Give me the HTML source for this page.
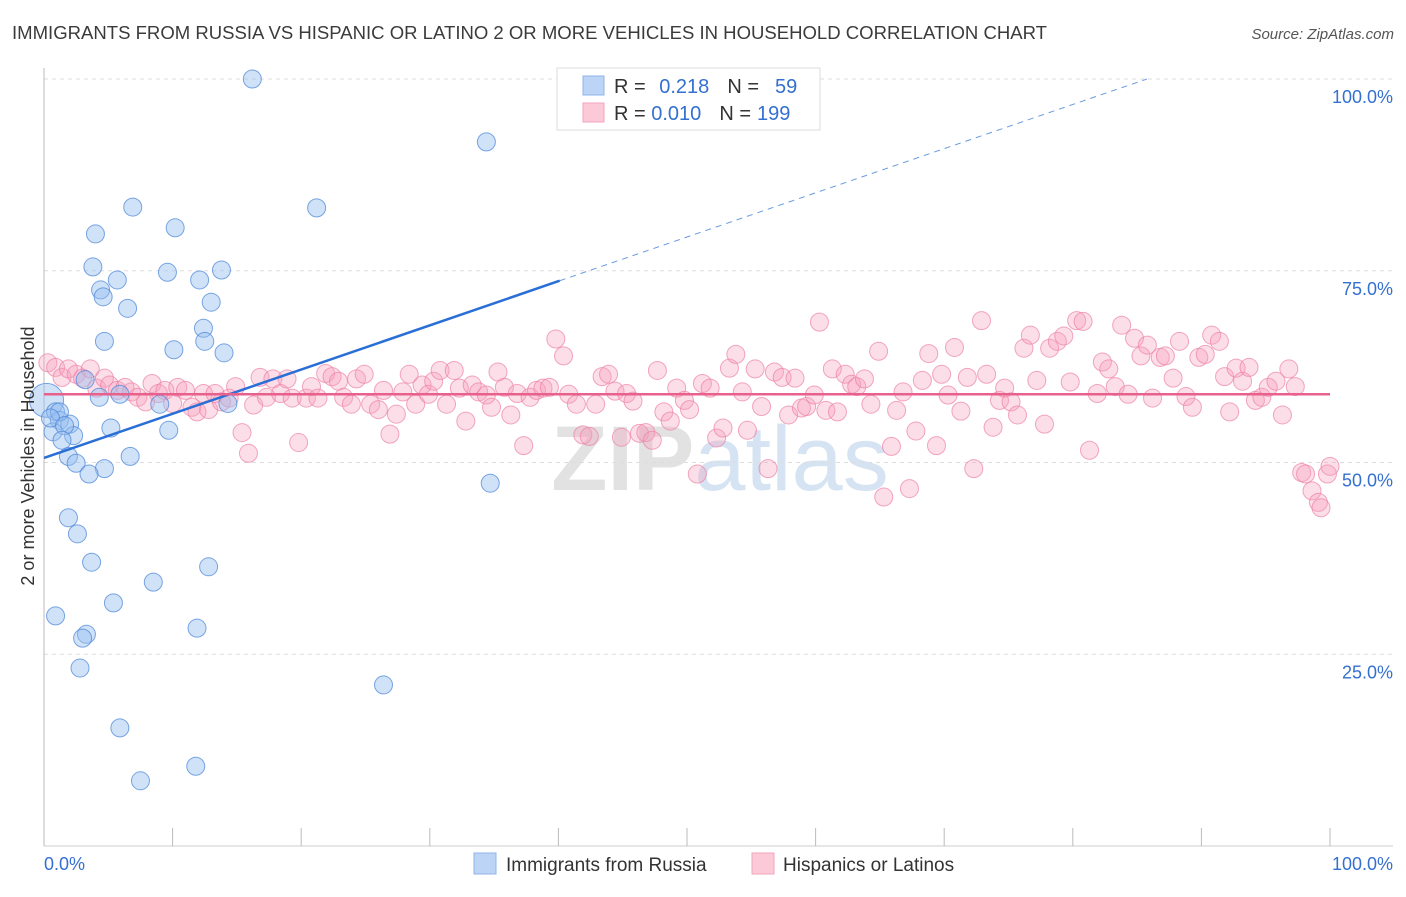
<!DOCTYPE html>
<html><head><meta charset="utf-8"><style>
body{margin:0;background:#fff;font-family:"Liberation Sans",sans-serif;}
svg text{font-family:"Liberation Sans",sans-serif;}
</style></head><body>
<svg id="chart" width="1406" height="892" xmlns="http://www.w3.org/2000/svg">
<text x="12" y="39" font-size="18" fill="#3b3b3b" textLength="1035" lengthAdjust="spacingAndGlyphs">IMMIGRANTS FROM RUSSIA VS HISPANIC OR LATINO 2 OR MORE VEHICLES IN HOUSEHOLD CORRELATION CHART</text>
<text x="1394" y="39" font-size="15" fill="#555" text-anchor="end" font-style="italic">Source: ZipAtlas.com</text>
<text x="720" y="490" font-size="92" text-anchor="middle" fill="#e2e2e2" font-weight="bold" font-family="Liberation Serif">ZIP<tspan fill="#d5e3f2" font-family="Liberation Sans" font-weight="normal">atlas</tspan></text>
<g id="grid"></g>
<g id="axes"></g>
<g id="pink"></g>
<g id="blue"></g>
<g id="trend"></g>
<text transform="translate(34,456) rotate(-90)" font-size="18" fill="#333" text-anchor="middle">2 or more Vehicles in Household</text>
<g>
<rect x="557" y="68" width="263" height="62" fill="#fff" stroke="#ddd"/>
<rect x="583" y="76" width="21" height="19" fill="#bcd4f5" stroke="#8fb3e8"/>
<rect x="583" y="103" width="21" height="19" fill="#fbc9d8" stroke="#f3a5bd"/>
<text x="614" y="93" font-size="20" fill="#333">R = <tspan fill="#3470d0" dx="8">0.218</tspan><tspan fill="#333" dx="18">N =</tspan><tspan fill="#3470d0" dx="16">59</tspan></text>
<text x="614" y="120" font-size="20" fill="#333">R = <tspan fill="#3470d0">0.010</tspan><tspan fill="#333" dx="18">N =</tspan><tspan fill="#3470d0" dx="6">199</tspan></text>
</g>
<g>
<rect x="474" y="853" width="22" height="21" fill="#bcd4f5" stroke="#8fb3e8"/>
<text x="506" y="871" font-size="19" fill="#333">Immigrants from Russia</text>
<rect x="752" y="853" width="22" height="21" fill="#fbc9d8" stroke="#f3a5bd"/>
<text x="783" y="871" font-size="19" fill="#333">Hispanics or Latinos</text>
</g>
</svg>
<script>
const yTicks=[100,75,50,25];
const yTickLabels=["100.0%","75.0%","50.0%","25.0%"];
const xEndLabels=["0.0%","100.0%"];
const blueX=[16.2,34.4,6.9,21.2,4.0,10.2,3.8,9.6,5.7,12.1,13.8,4.4,4.6,13.0,6.5,12.4,4.7,12.5,10.1,14.0,3.2,4.3,5.9,9.0,14.3,0.2,0.9,1.2,2.0,0.7,2.3,5.2,9.7,1.9,6.7,2.5,4.7,3.5,34.7,1.9,2.6,3.7,12.8,8.5,5.4,0.9,3.3,3.0,11.9,2.8,26.4,5.9,7.5,11.8,1.2,0.5,1.6,1.4];
const blueY=[100.0,91.8,83.3,83.2,79.8,80.6,75.5,74.8,73.8,73.8,75.1,72.5,71.6,70.9,70.1,67.5,65.8,65.8,64.7,64.3,60.8,58.5,58.9,57.6,57.7,58.1,56.6,55.5,55.0,54.0,53.5,54.5,54.2,50.8,50.8,49.9,49.2,48.5,47.3,42.8,40.7,37.0,36.4,34.4,31.7,30.0,27.6,27.1,28.4,23.2,21.0,15.4,8.5,10.4,56.6,55.8,54.8,52.9];
const pinkX=[0.3,0.9,1.4,1.9,2.5,3.0,3.6,4.1,4.7,5.1,5.7,6.3,6.8,7.3,7.9,8.4,8.9,9.4,10.0,10.4,11.0,11.5,11.9,12.4,12.8,13.3,13.8,14.4,14.9,15.4,15.9,16.3,16.8,17.3,17.8,18.4,18.9,19.3,19.8,20.4,20.8,21.3,21.9,22.4,22.9,23.3,23.9,24.3,24.9,25.4,26.0,26.4,26.9,27.4,27.9,28.4,28.9,29.4,29.9,30.3,30.8,31.3,31.9,32.3,32.8,33.3,33.8,34.4,34.8,35.3,35.8,36.3,36.8,37.3,37.8,38.3,38.8,39.3,39.8,40.4,40.8,41.4,41.9,42.4,42.9,43.4,43.9,44.4,44.9,45.3,45.8,46.3,46.8,47.3,47.7,48.2,48.7,49.2,49.8,50.2,50.8,51.2,51.8,52.3,52.8,53.3,53.8,54.3,54.7,55.3,55.8,56.3,56.8,57.4,57.9,58.4,58.9,59.3,59.9,60.3,60.8,61.3,61.7,62.3,62.8,63.2,63.8,64.3,64.9,65.3,65.9,66.3,66.8,67.3,67.8,68.3,68.8,69.4,69.8,70.3,70.8,71.3,71.8,72.3,72.9,73.3,73.8,74.3,74.7,75.2,75.7,76.2,76.7,77.2,77.8,78.2,78.8,79.3,79.8,80.3,80.8,81.3,81.9,82.3,82.8,83.3,83.8,84.3,84.8,85.3,85.8,86.2,86.8,87.2,87.8,88.3,88.8,89.3,89.8,90.3,90.8,91.4,91.8,92.2,92.7,93.2,93.7,94.2,94.7,95.2,95.8,96.3,96.8,97.3,97.8,98.1,98.6,99.1,99.3,99.8,100.0];
const pinkY=[63.0,62.4,61.1,62.2,61.5,61.0,62.2,59.7,61.0,60.1,59.4,59.8,59.2,58.5,57.9,60.3,59.0,59.4,57.7,59.8,59.4,57.2,56.6,59.0,56.9,59.0,57.9,58.4,59.9,53.9,51.2,57.5,61.1,58.5,60.9,59.0,60.9,58.4,52.6,58.4,59.9,58.4,61.6,61.2,60.6,58.5,57.6,60.9,61.5,57.6,56.9,59.4,53.7,56.3,59.2,61.5,57.6,60.1,58.9,60.6,62.0,57.6,62.0,59.7,55.4,60.1,59.2,58.8,57.2,61.8,59.8,56.2,59.0,52.2,58.5,59.4,59.7,59.8,66.1,63.9,58.9,57.6,53.6,53.4,57.6,61.2,61.5,59.3,53.3,59.0,58.0,53.8,53.9,52.9,62.0,56.6,55.4,59.7,58.1,56.9,48.5,60.3,59.7,53.2,54.5,62.3,64.1,59.2,54.2,62.2,57.3,49.2,61.8,61.1,56.2,61.0,57.1,57.3,58.8,68.3,56.8,62.2,56.6,61.5,60.2,59.9,60.9,57.6,64.5,45.5,52.1,56.8,59.2,46.6,54.1,60.7,64.2,52.2,61.5,58.8,65.0,56.7,61.1,49.2,68.5,61.5,54.6,58.1,59.7,57.9,56.2,64.9,66.6,60.7,55.0,64.9,65.8,66.5,60.5,68.5,68.4,51.6,59.0,63.1,62.2,59.9,67.9,58.9,66.2,63.9,65.3,58.4,63.7,63.9,61.0,65.8,58.6,57.2,63.7,64.1,66.6,65.8,61.2,56.6,62.3,60.6,62.4,58.1,58.5,59.8,60.6,56.2,62.2,59.9,48.7,48.5,46.3,44.8,44.1,48.5,49.5];
const blueTrend=[50.6,0.576]; // intercept, slope
const pinkTrend=[58.9,0.0];
const NS="http://www.w3.org/2000/svg";
const X0=44,X1=1330,Y0=846,Y100=79;
const sx=v=>X0+(X1-X0)*v/100, sy=v=>Y0-(Y0-Y100)*v/100;
function mk(tag,attrs,parent){const e=document.createElementNS(NS,tag);for(const k in attrs)e.setAttribute(k,attrs[k]);parent.appendChild(e);return e;}
const grid=document.getElementById('grid'),axes=document.getElementById('axes');
yTicks.forEach((t,i)=>{
 const l=mk('line',{x1:X0,x2:1393,y1:sy(t),y2:sy(t),stroke:'#ddd','stroke-dasharray':'4,4'},grid);
 
 
 const tx=mk('text',{x:1393,y:sy(t)+24,'font-size':18,fill:'#3470d0','text-anchor':'end'},axes);
 tx.textContent=yTickLabels[i];
 
 
});
const ax=mk('line',{x1:X0,x2:X0,y1:68,y2:Y0,stroke:'#bbb'},axes);


const bx=mk('line',{x1:X0,x2:1393,y1:Y0,y2:Y0,stroke:'#ccc'},axes);


for(let i=0;i<=10;i++){const t=mk('line',{x1:sx(i*10),x2:sx(i*10),y1:828,y2:Y0,stroke:'#bbb'},axes);
 
 }
[[0,'start',X0],[1,'end',1393]].forEach(([i,a,x])=>{const t=mk('text',{x:x,y:870,'font-size':18,fill:'#3470d0','text-anchor':a},axes);t.textContent=xEndLabels[i];
 
 });
const pg=document.getElementById('pink');
pinkX.forEach((v,i)=>{const c=mk('circle',{cx:sx(v),cy:sy(pinkY[i]),r:9,fill:'rgba(246,160,190,0.35)',stroke:'rgba(236,130,165,0.7)','stroke-width':1},pg);
 
 });
const bg=document.getElementById('blue');
blueX.forEach((v,i)=>{const c=mk('circle',{cx:sx(v),cy:sy(blueY[i]),r:(i===25?17:9),fill:'rgba(150,190,240,0.45)',stroke:'rgba(70,130,215,0.7)','stroke-width':1},bg);
 
 });
const tg=document.getElementById('trend');
const bEnd=40.1, bTop=(100-blueTrend[0])/blueTrend[1];
const l1=mk('line',{x1:sx(0),y1:sy(blueTrend[0]),x2:sx(bEnd),y2:sy(blueTrend[0]+blueTrend[1]*bEnd),stroke:'#2a6fd6','stroke-width':2.5},tg);


const l2=mk('line',{x1:sx(bEnd),y1:sy(blueTrend[0]+blueTrend[1]*bEnd),x2:sx(bTop),y2:sy(100),stroke:'#6a9be0','stroke-width':1,'stroke-dasharray':'6,5'},tg);


const l3=mk('line',{x1:sx(0),y1:sy(pinkTrend[0]),x2:sx(100),y2:sy(pinkTrend[0]+pinkTrend[1]*100),stroke:'#e8608c','stroke-width':2.5},tg);


</script>
</body></html>
